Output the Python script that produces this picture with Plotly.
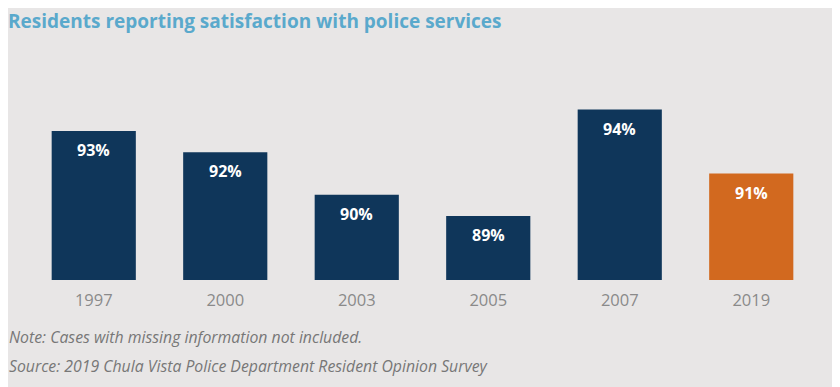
import plotly.graph_objects as go

years = ["1997", "2000", "2003", "2005", "2007", "2019"]
values = [93, 92, 90, 89, 94, 91]
labels = ["93%", "92%", "90%", "89%", "94%", "91%"]
colors = ["#0f365a", "#0f365a", "#0f365a", "#0f365a", "#0f365a", "#d2691f"]

title = "Residents reporting satisfaction with police services"
note = "Note: Cases with missing information not included."
source = "Source: 2019 Chula Vista Police Department Resident Opinion Survey"

bg = "#e8e6e6"
font_family = "Open Sans, Noto Sans, sans-serif"

fig = go.Figure()
fig.add_trace(go.Bar(
    x=years, y=values, marker=dict(color=colors, line=dict(width=0)),
    hoverinfo="skip", width=0.64,
))

for i, (v, lab) in enumerate(zip(values, labels)):
    fig.add_annotation(x=i, y=v, text="<b>" + lab + "</b>", showarrow=False,
                       xref="x", yref="y", yanchor="top", yshift=-6,
                       font=dict(family=font_family, size=16, color="white"))

fig.add_annotation(xref="paper", yref="paper", x=-0.0265, y=-0.259, xanchor="left", yanchor="middle",
                   text="<i>" + note + "</i>", showarrow=False,
                   font=dict(family=font_family, size=15.8, color="#777777"))
fig.add_annotation(xref="paper", yref="paper", x=-0.0265, y=-0.391, xanchor="left", yanchor="middle",
                   text="<i>" + source + "</i>", showarrow=False,
                   font=dict(family=font_family, size=15.8, color="#777777"))

fig.update_layout(
    width=832, height=379,
    paper_bgcolor=bg, plot_bgcolor=bg,
    margin=dict(l=20, r=23, t=52, b=107, autoexpand=False),
    showlegend=False,
    title=dict(text="<b>" + title + "</b>", x=0, xref="container", xanchor="left",
               y=1 - 13 / 379, yref="container", yanchor="middle", pad=dict(l=0, r=0, t=0, b=0),
               font=dict(family=font_family, size=19, color="#5aa9cc")),
    xaxis=dict(type="category", categoryorder="array", categoryarray=years,
               range=[-0.5, 5.5], autorange=False,
               showgrid=False, zeroline=False, showline=False, ticks="",
               ticklabelstandoff=8,
               tickfont=dict(family=font_family, size=16.5, color="#8a8a8a")),
    yaxis=dict(range=[86, 96.33], autorange=False, visible=False, showgrid=False),
)

fig.write_html("out.html")
